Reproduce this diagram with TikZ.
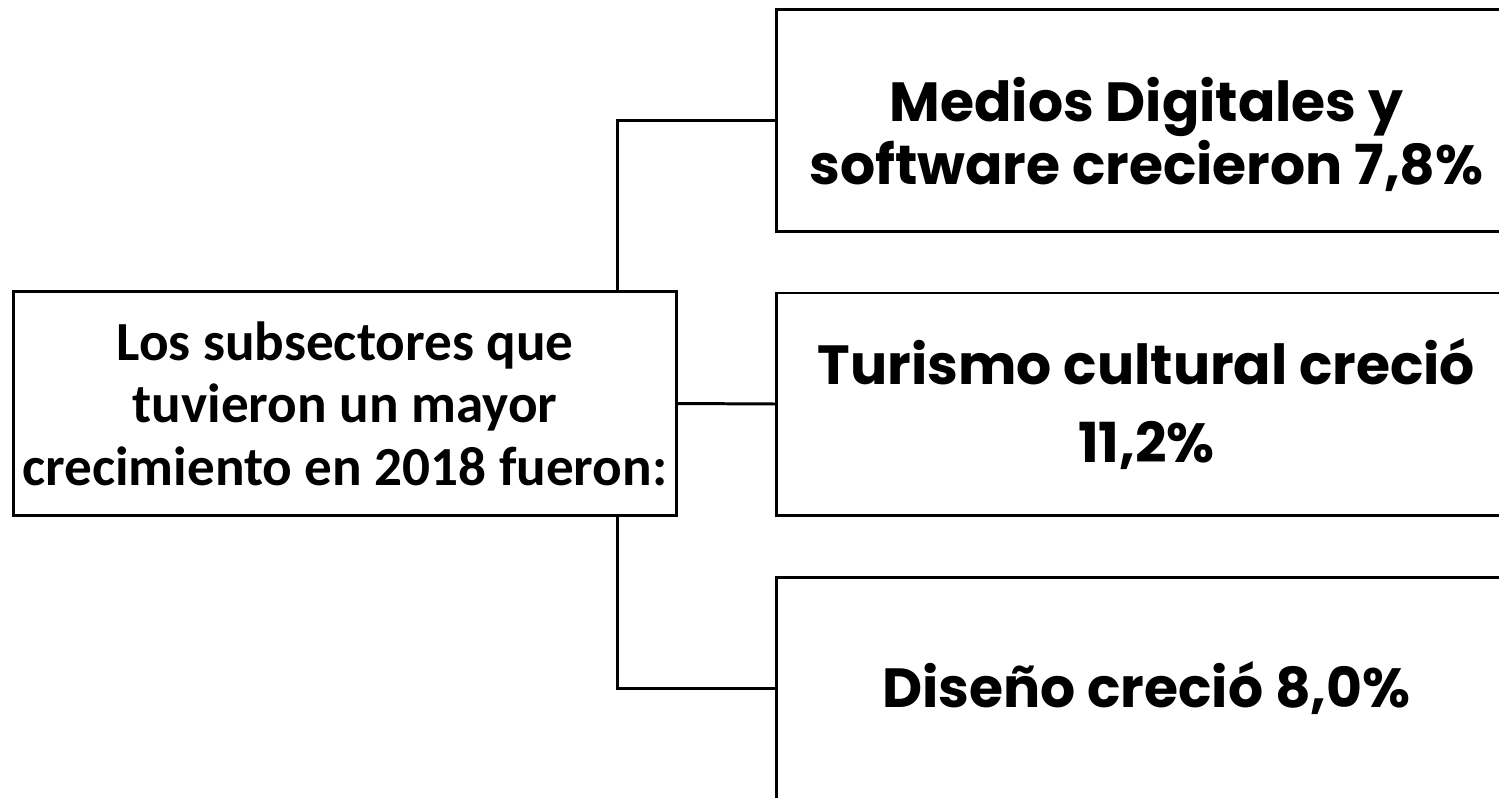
\documentclass[tikz,border=0pt]{standalone}
\usepackage{fontspec}
\setmainfont{Carlito}
\newfontfamily\rightfont{Poppins}
\usetikzlibrary{positioning}

\begin{document}
\begin{tikzpicture}[line width=0.85pt,
        leftbox/.style={draw,minimum width=6.63cm,minimum height=2.24cm,align=center,inner sep=0pt,
            font=\bfseries\fontsize{15.7}{17.8}\selectfont},
        rightbox/.style={draw,minimum width=7.4cm,minimum height=2.22cm,align=center,inner sep=0pt,
            font=\rightfont\bfseries\fontsize{15.7}{22}\selectfont},
        righttext/.style={align=center,inner sep=0pt,font=\rightfont\bfseries\fontsize{15.7}{16.4}\selectfont}]
        \useasboundingbox (0,0) rectangle (14.99,-7.97);
        \clip (0,0) rectangle (14.99,-7.97);

        \node[leftbox] (lbox) at (3.45,-4.035) {Los subsectores que\\tuvieron un mayor\\crecimiento en 2018 fueron:};
        \node[rightbox,label={[righttext,yshift=-0.14cm]center:{Medios Digitales y\\software crecieron 7,8\%}}] (top) at (11.465,-1.205) {};
        \node[rightbox] (mid) at (11.465,-4.04) {Turismo cultural creció\\11,2\%};
        \node[rightbox] (bot) at (11.465,-6.88) {Diseño creció 8,0\%};
        \coordinate (stem) at (6.17,-4.035);

        \draw[-] (stem |- lbox.north) |- (top.west);
        \draw[-] (lbox.east) -- (mid.west);
        \draw[-] (stem |- lbox.south) |- (bot.west);

    \end{tikzpicture}
\end{document}
